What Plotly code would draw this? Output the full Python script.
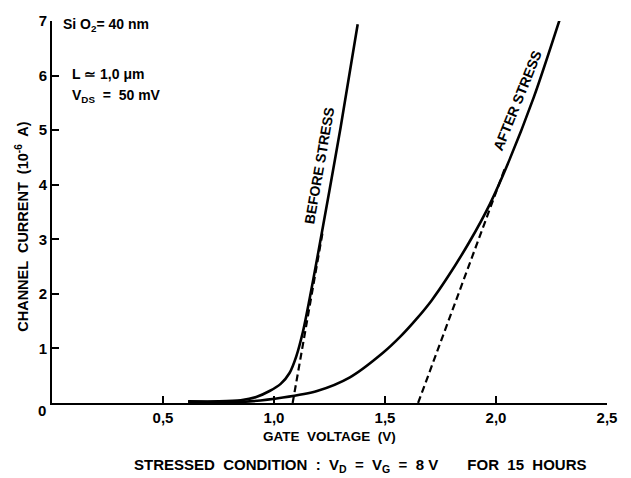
import plotly.graph_objects as go

# ---- data ----
before_v = [0.613, 0.75, 0.85, 0.92, 0.98, 1.03, 1.07, 1.10, 1.13, 1.16, 1.19, 1.25, 1.30, 1.377]
before_i = [0.03, 0.03, 0.05, 0.11, 0.22, 0.35, 0.55, 0.85, 1.30, 1.90, 2.55, 3.90, 5.05, 6.94]
before_fit_v = [1.084, 1.22]
before_fit_i = [0.0, 3.15]

after_v = [0.613, 0.89, 1.04, 1.194, 1.342, 1.491, 1.57, 1.644, 1.71, 1.778, 1.88, 1.973, 2.05, 2.17, 2.288]
after_i = [0.02, 0.03, 0.10, 0.22, 0.47, 0.92, 1.22, 1.55, 1.88, 2.28, 2.95, 3.65, 4.35, 5.60, 7.04]
after_fit_v = [1.649, 2.04]
after_fit_i = [0.0, 4.30]

x_ticks = [0.5, 1.0, 1.5, 2.0, 2.5]
x_ticklabels = ["0,5", "1,0", "1,5", "2,0", "2,5"]
y_ticks = [1, 2, 3, 4, 5, 6, 7]

# ---- layout geometry (pixels) ----
W, H = 631, 478
L, R, T, B = 52, 24, 15, 75
pw, ph = W - L - R, H - T - B

def px(x):
    return (x - L) / pw

def py(y):
    return (H - B - y) / ph

FONT = "Liberation Sans, Arial, Helvetica, sans-serif"
line_style = dict(color="black", width=2.6)

fig = go.Figure()
fig.add_trace(go.Scatter(x=before_v, y=before_i, mode="lines", line=dict(**line_style, shape="spline", smoothing=0.8), hoverinfo="skip"))
fig.add_trace(go.Scatter(x=after_v, y=after_i, mode="lines", line=dict(**line_style, shape="spline", smoothing=0.8), hoverinfo="skip"))
fig.add_trace(go.Scatter(x=before_fit_v, y=before_fit_i, mode="lines", line=dict(color="black", width=2.2, dash="7px,4px"), hoverinfo="skip"))
fig.add_trace(go.Scatter(x=after_fit_v, y=after_fit_i, mode="lines", line=dict(color="black", width=2.2, dash="7px,4px"), hoverinfo="skip"))

anns = []
def ann(text, x, y, size=13, angle=0, xanchor="center", yanchor="middle", weight="bold"):
    anns.append(dict(text=text, x=px(x), y=py(y), xref="paper", yref="paper", showarrow=False,
                     textangle=angle, xanchor=xanchor, yanchor=yanchor,
                     font=dict(family=FONT, size=size, color="black", weight=weight)))

ann("0", 42, 411, size=15)
ann("Si O<sub>2</sub>= 40 nm", 61, 19, size=14, xanchor="left")
ann("L \u2243 1,0 \u03bcm", 70, 69, size=14, xanchor="left")
ann("V<sub>DS</sub>  =  50 mV", 70, 91, size=14, xanchor="left")
ann("BEFORE STRESS", 319, 162, size=14, angle=-80)
ann("AFTER STRESS", 517, 96, size=14, angle=-68)
ann("GATE  VOLTAGE  (V)", 329, 437, size=13.5)
ann("CHANNEL  CURRENT  (10<sup>-6</sup>  A)", 22, 224, size=14.5, angle=-90)
ann("STRESSED  CONDITION  :  V<sub>D</sub>  =  V<sub>G</sub>  =  8 V       FOR  15  HOURS", 360, 466, size=15)

fig.update_layout(
    width=W, height=H,
    margin=dict(l=L, r=R, t=T, b=B),
    paper_bgcolor="white", plot_bgcolor="white",
    showlegend=False,
    annotations=anns,
    font=dict(family=FONT, color="black"),
)
fig.update_xaxes(range=[0, 2.5], tickvals=x_ticks, ticktext=x_ticklabels,
                 ticks="inside", ticklen=7, tickwidth=2, tickcolor="black",
                 showline=True, linecolor="black", linewidth=2, showgrid=False, zeroline=False,
                 tickfont=dict(family=FONT, size=15, color="black", weight="bold"))
fig.update_yaxes(range=[0, 7], tickvals=y_ticks,
                 ticks="inside", ticklen=7, tickwidth=2, tickcolor="black",
                 showline=True, linecolor="black", linewidth=2, showgrid=False, zeroline=False,
                 tickfont=dict(family=FONT, size=15, color="black", weight="bold"))

fig.write_html("out.html")
